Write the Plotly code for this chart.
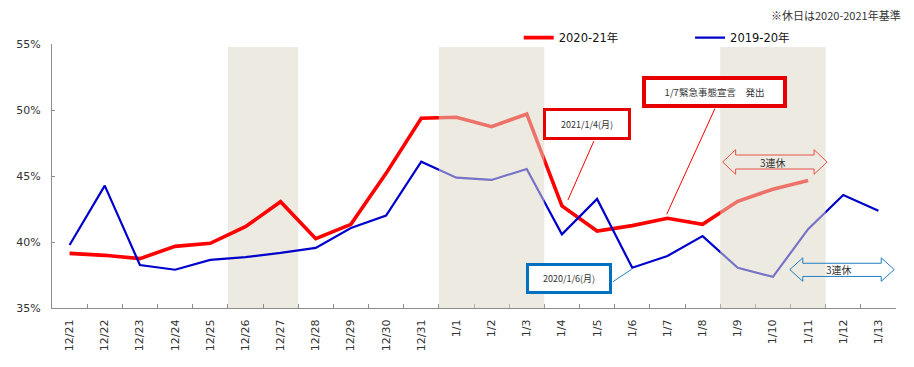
import plotly.graph_objects as go

categories = ["12/21", "12/22", "12/23", "12/24", "12/25", "12/26", "12/27", "12/28",
              "12/29", "12/30", "12/31", "1/1", "1/2", "1/3", "1/4", "1/5", "1/6",
              "1/7", "1/8", "1/9", "1/10", "1/11", "1/12", "1/13"]
red_2020_21 = [39.14, 38.99, 38.74, 39.67, 39.9, 41.16, 43.05, 40.25, 41.34, 45.2,
               49.37, 49.45, 48.74, 49.7, 42.73, 40.83, 41.24, 41.8, 41.34, 43.08,
               44.0, 44.66, None, None]
blue_2019_20 = [39.77, 44.27, 38.26, 37.9, 38.64, 38.86, 39.17, 39.55, 41.06, 42.0,
                46.08, 44.87, 44.7, 45.53, 40.58, 43.26, 38.05, 38.94, 40.45, 38.04,
                37.36, 40.97, 43.56, 42.36]
holidays = [("12/26", "12/27"), ("1/1", "1/3"), ("1/9", "1/11")]
y_ticks = [35, 40, 45, 50, 55]

N = len(categories)
TICKF = "DejaVu Sans, Noto Sans CJK JP"
JPF = "Noto Sans CJK JP, DejaVu Sans"


def xp(i):
    return (i + 0.5) / N


def yp(v):
    return (v - 35) / 20.0


fig = go.Figure()
fig.add_trace(go.Scatter(x=categories, y=red_2020_21, mode="lines", name="2020-21年",
                         line=dict(color="#FF0000", width=3.6), legend="legend",
                         showlegend=True))
fig.add_trace(go.Scatter(x=categories, y=blue_2019_20, mode="lines", name="2019-20年",
                         line=dict(color="#0000CC", width=2.2), legend="legend2",
                         showlegend=True))

shapes = []
for k, (a, b) in enumerate(holidays):
    i0 = categories.index(a) - 0.5
    i1 = categories.index(b) + 0.5
    if k == 0:
        shapes.append(dict(type="rect", xref="x", yref="y", x0=i0, x1=i1, y0=35, y1=54.77,
                           fillcolor="rgb(237,234,225)", line=dict(width=0), layer="below"))
    else:
        shapes.append(dict(type="rect", xref="x", yref="y", x0=i0, x1=i1, y0=35, y1=54.77,
                           fillcolor="rgba(221,216,198,0.535)", line=dict(width=0), layer="above"))


def darrow(x0, x1, yh0, yh1, yb0, yb1, h):
    ym = (yh0 + yh1) / 2
    pts = [(x0, ym), (x0 + h, yh1), (x0 + h, yb1), (x1 - h, yb1), (x1 - h, yh1), (x1, ym),
           (x1 - h, yh0), (x1 - h, yb0), (x0 + h, yb0), (x0 + h, yh0)]
    s = "M " + " L ".join(f"{xp(px):.5f},{yp(py):.5f}" for px, py in pts) + " Z"
    return s


shapes.append(dict(type="path", xref="paper", yref="paper",
                   path=darrow(18.57, 21.54, 45.13, 46.99, 45.53, 46.59, 0.37),
                   line=dict(color="#E8524A", width=1), fillcolor="rgba(0,0,0,0)", layer="above"))
shapes.append(dict(type="path", xref="paper", yref="paper",
                   path=darrow(20.48, 23.45, 37.02, 38.8, 37.39, 38.39, 0.37),
                   line=dict(color="#1F7EC1", width=1), fillcolor="rgba(0,0,0,0)", layer="above"))

# leader lines
for (xa, ya, xb, yb, col) in [(14.91, 47.65, 14.17, 43.18, "#FF0000"),
                              (18.35, 50.1, 16.98, 42.1, "#FF0000"),
                              (15.45, 36.99, 15.98, 37.93, "#1F7EC1")]:
    shapes.append(dict(type="line", xref="paper", yref="paper", x0=xp(xa), y0=yp(ya),
                       x1=xp(xb), y1=yp(yb), line=dict(color=col, width=1), layer="above"))

annotations = [
    dict(text="※休日は2020-2021年基準", xref="paper", yref="paper", x=1.008, y=1.11,
         xanchor="right", yanchor="middle", showarrow=False,
         font=dict(family=JPF, size=11, color="#333333")),
    dict(text="2021/1/4(月)", xref="paper", yref="paper", x=xp(14.71), y=yp(48.94),
         xanchor="center", yanchor="middle", showarrow=False, width=82, height=26,
         bordercolor="#E60000", borderwidth=3, borderpad=0, bgcolor="white",
         font=dict(family=JPF, size=9, color="#333333")),
    dict(text="1/7緊急事態宣言　発出", xref="paper", yref="paper", x=xp(18.33), y=yp(51.37),
         xanchor="center", yanchor="middle", showarrow=False, width=137, height=24,
         bordercolor="#E60000", borderwidth=4, borderpad=0, bgcolor="white",
         font=dict(family=JPF, size=9.5, color="#333333")),
    dict(text="2020/1/6(月)", xref="paper", yref="paper", x=xp(14.2), y=yp(37.24),
         xanchor="center", yanchor="middle", showarrow=False, width=80, height=25,
         bordercolor="#0070C0", borderwidth=3, borderpad=0, bgcolor="white",
         font=dict(family=JPF, size=9, color="#333333")),
    dict(text="3連休", xref="paper", yref="paper", x=xp(20.0), y=yp(46.0),
         xanchor="center", yanchor="middle", showarrow=False,
         font=dict(family=JPF, size=10, color="#333333")),
    dict(text="3連休", xref="paper", yref="paper", x=xp(21.88), y=yp(37.93),
         xanchor="center", yanchor="middle", showarrow=False,
         font=dict(family=JPF, size=10, color="#333333")),
]

# page body has an 8px default margin: figure is sized so it fills the window exactly
fig.update_layout(
    width=906, height=359,
    margin=dict(l=44, r=18, t=36, b=59, autoexpand=False),
    showlegend=True,
    paper_bgcolor="white", plot_bgcolor="white",
    shapes=shapes, annotations=annotations,
    legend=dict(orientation="h", x=0.553, y=1.024, xanchor="left", yanchor="middle",
                font=dict(family=TICKF, size=11.5, color="#111111"), bgcolor="rgba(0,0,0,0)"),
    legend2=dict(orientation="h", x=0.756, y=1.024, xanchor="left", yanchor="middle",
                 font=dict(family=TICKF, size=11.5, color="#111111"), bgcolor="rgba(0,0,0,0)"),
    xaxis=dict(type="category", categoryorder="array", categoryarray=categories,
               range=[-0.5, N - 0.5], showgrid=False, zeroline=False,
               showline=True, linecolor="#8C8C8C", linewidth=1.3,
               ticks="inside", ticklen=4, tickcolor="#8C8C8C", tickson="boundaries",
               tickangle=-90, ticklabelstandoff=6,
               tickfont=dict(family=TICKF, size=11, color="#333333")),
    yaxis=dict(range=[35, 55], tickvals=y_ticks, ticktext=[f"{v}%" for v in y_ticks],
               showgrid=False, zeroline=False, showline=True, linecolor="#8C8C8C",
               linewidth=1.3, ticks="inside", ticklen=3, tickcolor="#8C8C8C",
               ticklabelstandoff=8,
               tickfont=dict(family=TICKF, size=11, color="#333333")),
)

fig.write_html("out.html")
